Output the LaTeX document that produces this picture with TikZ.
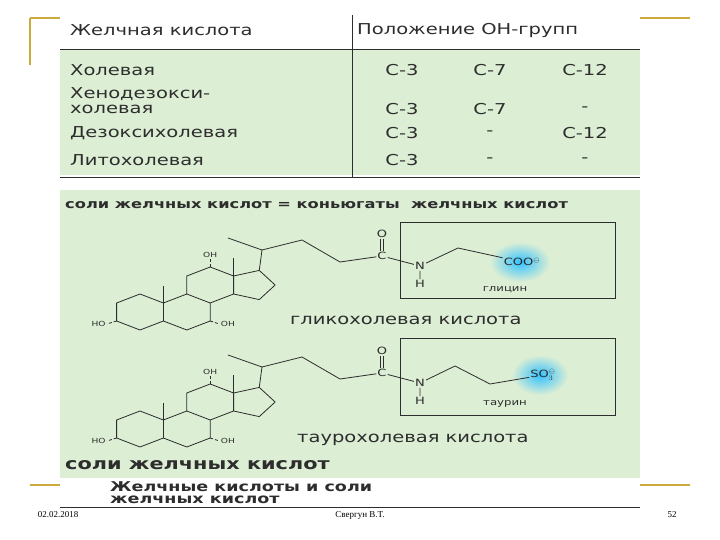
\documentclass[tikz,border=0pt]{standalone}
\usepackage{amsmath, amssymb}
\usepackage{fontspec}
\setmainfont{DejaVu Sans}[FakeStretch=1.3]
\newfontfamily\ser{Liberation Serif}
\definecolor{gold}{RGB}{204,170,60}
\definecolor{pale}{RGB}{220,238,212}
\definecolor{ink}{RGB}{45,45,45}
\tikzset{
  hd/.style={anchor=west, inner sep=0pt, font=\fontsize{15}{16}\selectfont, text=ink},
  val/.style={inner sep=0pt, font=\fontsize{15}{16}\selectfont, text=ink},
  atom/.style={inner sep=1pt, font=\fontsize{10}{11}\selectfont, text=ink},
  tiny/.style={inner sep=1pt, font=\fontsize{7}{8}\selectfont, text=ink},
  title/.style={anchor=west, inner sep=0pt, font=\bfseries\fontsize{16}{18}\selectfont, text=ink},
  foot/.style={font=\ser\fontsize{9}{10}\selectfont},
  bond/.style={ink, thick},
}
% steroid skeleton of cholic acid, shifted by #1 in y
\newcommand{\cholskel}[1]{
  \begin{scope}[shift={(140,312+#1)}, xscale=1.5]
    \draw[bond] (0,-18) -- (15.6,-9) -- (15.6,9) -- (0,18) -- (-15.6,9) -- (-15.6,-9) -- cycle;
    \draw[bond] (15.6,-9) -- (31.2,-18) -- (46.8,-9) -- (46.8,9) -- (31.2,18) -- (15.6,9);
    \draw[bond] (31.2,-18) -- (31.2,-36) -- (46.8,-45) -- (62.4,-36) -- (62.4,-18) -- (46.8,-9);
    \draw[bond] (62.4,-36) -- (79.5,-41.6) -- (90.1,-27) -- (79.5,-12.4) -- (62.4,-18);
    \draw[bond] (15.6,-9) -- (15.6,-26);
    \draw[bond] (62.4,-36) -- (62.4,-54);
    \draw[bond, densely dashed] (-15.6,9) -- (-22,12) node[tiny, left] {HO};
    \draw[bond, densely dashed] (46.8,9) -- (53,12) node[tiny, right] {OH};
    \draw[bond, densely dashed] (46.8,-45) -- (46.8,-53) node[tiny, above] {OH};
    \coordinate (c17) at (79.5,-41.6);
  \end{scope}
  \coordinate (c20) at (262,250+#1);
  \draw[bond] (c17) -- (c20) -- (228,238+#1);
  \draw[bond] (c20) -- (302,240+#1) -- (340,262+#1);
}

\begin{document}
\begin{tikzpicture}[x=1pt, y=-1pt]
  \useasboundingbox (0,0) rectangle (720,540);
  \fill[white] (0,0) rectangle (720,540);

  % slide frame
  \draw[gold, line width=1.5pt] (30,18) -- (690,18);
  \draw[gold, line width=1.5pt] (30,18) -- (30,65);
  \draw[gold, line width=1.5pt] (30,485) -- (690,485);

  % table
  \fill[white] (60,15) rectangle (640,48);
  \fill[pale] (60,50) rectangle (640,175);
  \draw[ink, thick] (60,49) -- (640,49);
  \draw[ink, thick] (60,177) -- (640,177);
  \draw[ink, thick] (352,15) -- (352,177);
  \node[hd] at (70,30) {Желчная кислота};
  \node[hd] at (357,30) {Положение ОН-групп};
  \node[hd] at (70,70) {Холевая};
  \node[hd] at (70,94) {Хенодезокси-};
  \node[hd] at (70,109) {холевая};
  \node[hd] at (70,133) {Дезоксихолевая};
  \node[hd] at (70,160) {Литохолевая};
  \node[val] at (402,70) {С-3};  \node[val] at (490,70) {С-7};  \node[val] at (585,70) {С-12};
  \node[val] at (402,109) {С-3}; \node[val] at (490,109) {С-7}; \node[val] at (585,109) {-};
  \node[val] at (402,133) {С-3}; \node[val] at (490,133) {-};   \node[val] at (585,133) {С-12};
  \node[val] at (402,160) {С-3}; \node[val] at (490,160) {-};   \node[val] at (585,160) {-};

  % conjugates
  \fill[pale] (60,190) rectangle (640,478);
  \node[title, font=\bfseries\fontsize{12.5}{14}\selectfont] at (65,205)
    {соли желчных кислот = коньюгаты \ желчных кислот};

  % glycocholic acid
  \cholskel{0}
  \draw[ink] (400,222) rectangle (615,298);
  \shade[inner color=cyan!70!blue!80, outer color=pale] (520,262) ellipse (30 and 20);
  \node[atom] (c1) at (382,256) {C};
  \node[atom] (o1) at (382,234) {O};
  \node[atom] (n1) at (420,266) {N};
  \node[atom] (h1) at (420,284) {H};
  \node[atom] (coo) at (522,262) {COO$^{\ominus}$};
  \coordinate (g1) at (458,248);
  \draw[bond] (340,262) -- (c1);
  \draw[bond] ([xshift=-1.5]o1.south) -- ([xshift=-1.5]c1.north);
  \draw[bond] ([xshift=1.5]o1.south) -- ([xshift=1.5]c1.north);
  \draw[bond] (c1) -- (n1) -- (h1);
  \draw[bond] (n1) -- (g1) -- (coo);
  \node[tiny, font=\fontsize{9}{10}\selectfont] at (505,290) {глицин};
  \node[title, font=\fontsize{15}{17}\selectfont] at (290,320) {гликохолевая кислота};

  % taurocholic acid
  \cholskel{117}
  \draw[ink] (400,338) rectangle (615,415);
  \shade[inner color=cyan!70!blue!80, outer color=pale] (540,375) ellipse (28 and 20);
  \node[atom] (c2) at (382,373) {C};
  \node[atom] (o2) at (382,351) {O};
  \node[atom] (n2) at (420,383) {N};
  \node[atom] (h2) at (420,401) {H};
  \node[atom] (so) at (543,375) {SO$_3^{\ominus}$};
  \coordinate (t1) at (455,366);
  \coordinate (t2) at (490,384);
  \draw[bond] (340,379) -- (c2);
  \draw[bond] ([xshift=-1.5]o2.south) -- ([xshift=-1.5]c2.north);
  \draw[bond] ([xshift=1.5]o2.south) -- ([xshift=1.5]c2.north);
  \draw[bond] (c2) -- (n2) -- (h2);
  \draw[bond] (n2) -- (t1) -- (t2) -- (so);
  \node[tiny, font=\fontsize{9}{10}\selectfont] at (505,404) {таурин};
  \node[title, font=\fontsize{15}{17}\selectfont] at (297,440) {таурохолевая кислота};
  \node[title] at (65,465) {соли желчных кислот};

  % caption
  \fill[white] (60,478) rectangle (640,505);
  \node[title, font=\bfseries\fontsize{13.5}{14}\selectfont] at (110,487) {Желчные кислоты и соли};
  \node[title, font=\bfseries\fontsize{13.5}{14}\selectfont] at (110,500) {желчных кислот};
  \draw[ink, thick] (60,507) -- (640,507);

  % footer
  \node[foot] at (58,515) {02.02.2018};
  \node[foot] at (360,515) {Свергун В.Т.};
  \node[foot] at (672,515) {52};
\end{tikzpicture}
\end{document}
